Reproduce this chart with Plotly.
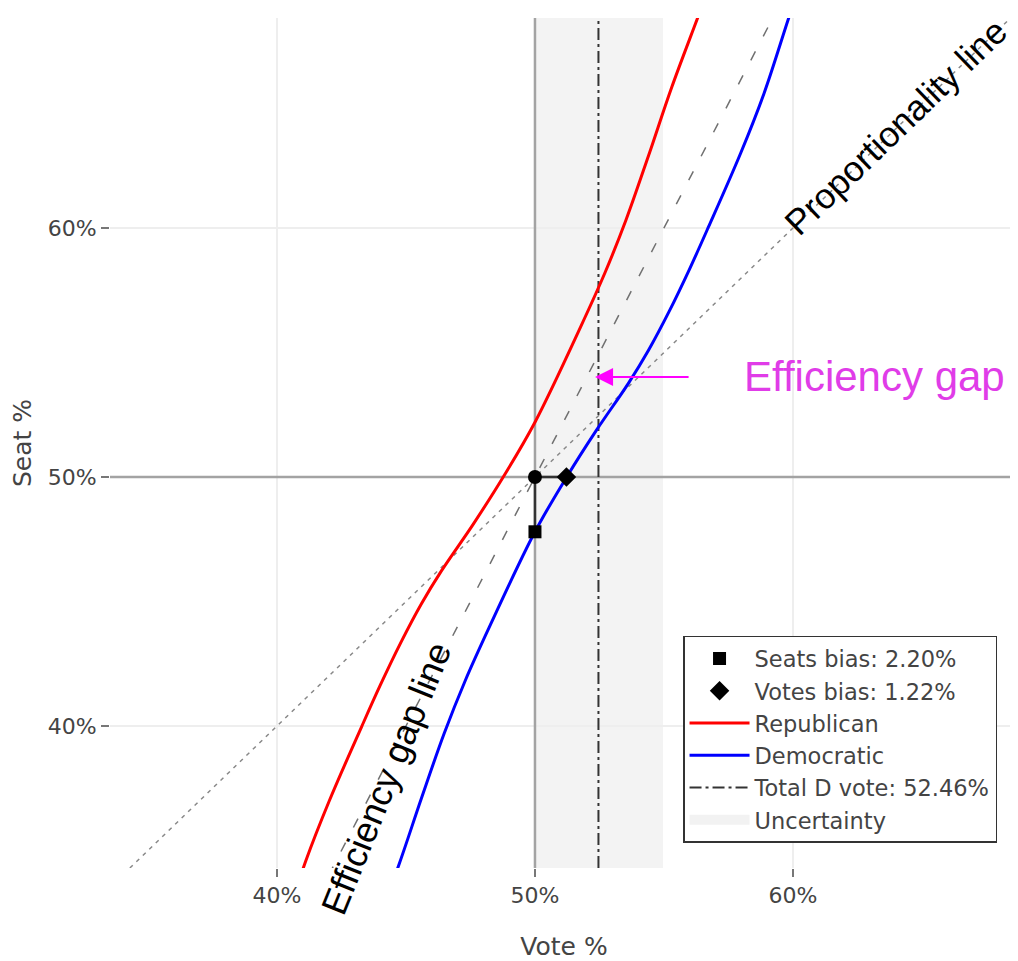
import plotly.graph_objects as go

# ---------------- data ----------------
# Democratic seats-votes curve (vote %, seat %)
DEM_VOTE = [43.0, 43.6, 44.7, 45.6, 46.48, 47.3, 48.23, 50.0, 51.23, 52.39, 53.62, 54.4,
            55.2, 56.0, 56.72, 57.97, 58.88, 59.83, 60.5]
DEM_SEAT = [29.6, 31.3, 34.35, 37.1, 39.7, 41.83, 43.97, 47.8, 50.0, 51.89, 53.76, 55.09,
            56.65, 58.37, 60.03, 63.0, 65.41, 68.42, 70.5]
# Republican seats-votes curve (vote %, seat %)
REP_VOTE = [39.5, 40.17, 41.12, 42.03, 43.28, 44.0, 44.8, 45.6, 46.38, 47.61, 48.77, 50.0,
            51.77, 52.7, 53.52, 54.4, 55.3, 56.4, 57.0]
REP_SEAT = [29.5, 31.58, 34.59, 37.0, 39.97, 41.63, 43.35, 44.91, 46.24, 48.11, 50.0, 52.2,
            56.03, 58.17, 60.3, 62.9, 65.65, 68.7, 70.4]

PROP_X = [34.3, 68.8]          # proportionality line
PROP_Y = [34.3, 68.8]
EG_X = [42.0, 59.5]            # efficiency gap line
EG_Y = [34.0, 69.0]

TOTAL_D_VOTE = 52.46
UNCERT_LO, UNCERT_HI = 49.96, 54.96
SEATS_BIAS = 2.20
VOTES_BIAS = 1.22
CENTER = 50.0

TICK_VALS = [40, 50, 60]
TICK_TEXT = ["40%", "50%", "60%"]
X_RANGE = [33.53, 68.72]
Y_RANGE = [34.30, 68.43]

# ---------------- figure ----------------
fig = go.Figure()

# 50% reference lines
fig.add_trace(go.Scatter(x=[CENTER, CENTER, None, X_RANGE[0], X_RANGE[1]],
                         y=[Y_RANGE[0], Y_RANGE[1], None, CENTER, CENTER],
                         mode="lines", showlegend=False, hoverinfo="skip", cliponaxis=True,
                         line=dict(color="#a3a3a3", width=2.5)))
fig.add_trace(go.Scatter(x=PROP_X, y=PROP_Y, mode="lines", showlegend=False, hoverinfo="skip",
                         line=dict(color="#888888", width=1.5, dash="4px,5px")))
fig.add_trace(go.Scatter(x=EG_X, y=EG_Y, mode="lines", showlegend=False, hoverinfo="skip",
                         line=dict(color="#707070", width=1.5, dash="10px,17px")))
fig.add_trace(go.Scatter(x=[TOTAL_D_VOTE, TOTAL_D_VOTE], y=[Y_RANGE[0], Y_RANGE[1]], mode="lines",
                         name="Total D vote: %.2f%%" % TOTAL_D_VOTE, legendrank=5,
                         line=dict(color="#333333", width=2, dash="12px,4px,3px,4px")))
fig.add_trace(go.Scatter(x=REP_VOTE, y=REP_SEAT, mode="lines", name="Republican", legendrank=3,
                         line=dict(color="#ff0000", width=3, shape="spline", smoothing=1.0)))
fig.add_trace(go.Scatter(x=DEM_VOTE, y=DEM_SEAT, mode="lines", name="Democratic", legendrank=4,
                         line=dict(color="#0000ff", width=3, shape="spline", smoothing=1.0)))
fig.add_trace(go.Scatter(x=[None], y=[None], mode="lines", name="Uncertainty", legendrank=6,
                         line=dict(color="#f2f2f2", width=10)))
# bias connectors
fig.add_trace(go.Scatter(x=[CENTER, CENTER, None, CENTER, CENTER + VOTES_BIAS],
                         y=[CENTER, CENTER - SEATS_BIAS, None, CENTER, CENTER],
                         mode="lines", showlegend=False, hoverinfo="skip",
                         line=dict(color="#333333", width=2.5)))
fig.add_trace(go.Scatter(x=[CENTER], y=[CENTER], mode="markers", showlegend=False,
                         marker=dict(symbol="circle", size=14, color="black")))
fig.add_trace(go.Scatter(x=[CENTER], y=[CENTER - SEATS_BIAS], mode="markers",
                         name="Seats bias: %.2f%%" % SEATS_BIAS, legendrank=1,
                         marker=dict(symbol="square", size=13, color="black")))
fig.add_trace(go.Scatter(x=[CENTER + VOTES_BIAS], y=[CENTER], mode="markers",
                         name="Votes bias: %.2f%%" % VOTES_BIAS, legendrank=2,
                         marker=dict(symbol="diamond", size=15, color="black")))

# uncertainty band
fig.add_shape(type="rect", xref="x", yref="y", x0=UNCERT_LO, x1=UNCERT_HI,
              y0=Y_RANGE[0], y1=Y_RANGE[1],
              fillcolor="#f3f3f3", line=dict(width=0), layer="below")

ann_font = "Liberation Sans, Arial, sans-serif"
fig.add_annotation(x=64.0, y=64.05, xref="x", yref="y", text="Proportionality line",
                   showarrow=False, textangle=-44, font=dict(family=ann_font, size=35.5, color="black"))
fig.add_annotation(x=44.22, y=37.91, xref="x", yref="y", text="Efficiency gap line",
                   showarrow=False, textangle=-68, font=dict(family=ann_font, size=36, color="black"))
fig.add_annotation(x=63.16, y=54.02, xref="x", yref="y", text="Efficiency gap",
                   showarrow=False, font=dict(family=ann_font, size=42, color="#e03ce8"))
fig.add_annotation(x=52.33, y=54.02, xref="x", yref="y", text="", showarrow=True,
                   ax=95, ay=0, arrowhead=2, arrowsize=1.8, arrowwidth=2, arrowcolor="#ff00ff")

axis_common = dict(
    tickvals=TICK_VALS, ticktext=TICK_TEXT, showgrid=True, gridcolor="#eeeeee", gridwidth=1.5,
    zeroline=False, showline=False, ticks="outside", ticklen=8, tickwidth=1.5, tickcolor="#777777",
    tickfont=dict(family="DejaVu Sans, Verdana, sans-serif", size=22, color="#444444"),
)
title_font = dict(family="DejaVu Sans, Verdana, sans-serif", size=25, color="#444444")
fig.update_layout(
    width=1010, height=953,
    margin=dict(l=102, r=0, t=10, b=93),
    paper_bgcolor="white", plot_bgcolor="white",
    xaxis=dict(range=X_RANGE, title=dict(text="Vote %", font=title_font, standoff=30), **axis_common),
    yaxis=dict(range=Y_RANGE, title=dict(text="Seat %", font=title_font, standoff=8), **axis_common),
    legend=dict(x=0.6311, y=0.273, xanchor="left", yanchor="top", bgcolor="white",
                bordercolor="#333333", borderwidth=1.5, itemwidth=60,
                font=dict(family="DejaVu Sans, Verdana, sans-serif", size=22.5, color="#444444")),
    showlegend=True,
)

fig.write_html("out.html")
